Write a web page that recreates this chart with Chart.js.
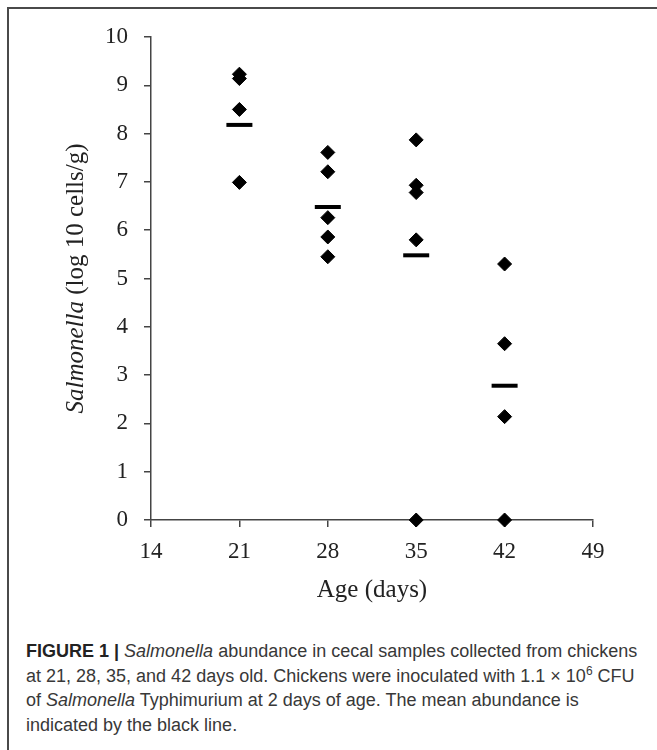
<!DOCTYPE html>
<html>
<head>
<meta charset="utf-8">
<script src="https://cdn.jsdelivr.net/npm/chart.js@4.4.1/dist/chart.umd.min.js"></script>
<style>
  body { margin: 0; background: #fff; }
  #wrap { position: relative; width: 657px; height: 750px; overflow: hidden; }
  #frame { position: absolute; left: 7px; top: 7px; width: 700px; height: 800px;
           border-left: 2px solid #4a4a4a; border-top: 2px solid #4a4a4a; }
  #chartBox { position: absolute; left: 0; top: 0; width: 657px; height: 620px; }
  #caption { position: absolute; left: 26px; top: 639px; width: 628px;
             font-family: "Liberation Sans", Arial, sans-serif; font-size: 18px;
             line-height: 24.7px; color: #383838; white-space: nowrap; }
  #caption b { font-weight: bold; color: #222; }
  #caption sup { font-size: 12px; line-height: 0; vertical-align: 7px; }
</style>
</head>
<body>
<div id="wrap">
  <div id="frame"></div>
  <div id="chartBox"><canvas id="myChart" width="657" height="620"></canvas></div>
  <div id="caption">
    <b>FIGURE 1 |</b> <i>Salmonella</i> abundance in cecal samples collected from chickens<br>
    at 21, 28, 35, and 42 days old. Chickens were inoculated with 1.1 &times; 10<sup>6</sup> CFU<br>
    of <i>Salmonella</i> Typhimurium at 2 days of age. The mean abundance is<br>
    indicated by the black line.
  </div>
</div>
<script>
// sample values (log10 cells/g)
const ages = [21, 28, 35, 42];
const day21 = [9.23, 9.14, 8.50, 6.99];
const day28 = [7.61, 7.21, 6.26, 5.86, 5.45];
const day35 = [7.87, 6.93, 6.78, 5.80, 0];
const day42 = [5.30, 3.65, 2.14, 0];
const means = [8.18, 6.48, 5.48, 2.78];

const xTicks = [14, 21, 28, 35, 42, 49];

const samples = [day21, day28, day35, day42];
const samplePoints = [];
samples.forEach((vals, i) => {
    vals.forEach(v => samplePoints.push({x: ages[i], y: v}));
});
const meanPoints = ages.map((a, i) => ({x: a, y: means[i]}));

const axisColor = '#444';
const serif = '"Liberation Serif", "Times New Roman", serif';

// y title has italic + regular parts, so it is drawn by hand
const yTitle = {
    id: 'yTitle',
    afterDraw(chart) {
        const ctx = chart.ctx;
        const area = chart.chartArea;
        const cy = (area.top + area.bottom) / 2;
        const partA = 'Salmonella';
        const partB = ' (log 10 cells/g)';
        ctx.save();
        ctx.fillStyle = '#222';
        ctx.font = 'italic 25px ' + serif;
        const wA = ctx.measureText(partA).width;
        ctx.font = '25px ' + serif;
        const wB = ctx.measureText(partB).width;
        ctx.translate(83, cy);
        ctx.rotate(-Math.PI / 2);
        ctx.textBaseline = 'alphabetic';
        ctx.textAlign = 'left';
        const start = -(wA + wB) / 2;
        ctx.font = 'italic 25px ' + serif;
        ctx.fillText(partA, start, 0);
        ctx.font = '25px ' + serif;
        ctx.fillText(partB, start + wA, 0);
        ctx.restore();
    }
};

const config = {
    type: 'scatter',
    data: {
        datasets: [
            {
                label: 'samples',
                data: samplePoints,
                pointStyle: 'rectRot',
                pointRadius: 7,
                pointHoverRadius: 7,
                backgroundColor: '#000',
                borderColor: '#000',
                borderWidth: 1,
                clip: false
            },
            {
                label: 'mean',
                data: meanPoints,
                pointStyle: 'line',
                pointRadius: 13,
                pointHoverRadius: 13,
                borderColor: '#000',
                backgroundColor: '#000',
                borderWidth: 4,
                clip: false
            }
        ]
    },
    options: {
        responsive: false,
        animation: false,
        layout: {
            padding: {left: 0, right: 64, top: 37, bottom: 0}
        },
        plugins: {
            legend: {display: false},
            tooltip: {enabled: false}
        },
        scales: {
            x: {
                type: 'linear',
                min: 14,
                max: 49,
                afterFit: s => { s.height = 100; },
                afterBuildTicks: s => { s.ticks = xTicks.map(v => ({value: v})); },
                ticks: {
                    color: '#222',
                    padding: 11,
                    font: {family: serif, size: 23}
                },
                grid: {
                    drawOnChartArea: false,
                    drawTicks: true,
                    tickLength: 7,
                    color: axisColor,
                    lineWidth: 1.5
                },
                border: {color: axisColor, width: 1.5},
                title: {
                    display: true,
                    text: 'Age (days)',
                    color: '#222',
                    font: {family: serif, size: 25},
                    padding: {top: 0, bottom: 15}
                }
            },
            y: {
                min: 0,
                max: 10,
                afterFit: s => { s.width = 151; },
                ticks: {
                    stepSize: 1,
                    color: '#222',
                    padding: 16,
                    font: {family: serif, size: 23}
                },
                grid: {
                    drawOnChartArea: false,
                    drawTicks: true,
                    tickLength: 7,
                    color: axisColor,
                    lineWidth: 1.5
                },
                border: {color: axisColor, width: 1.5}
            }
        }
    },
    plugins: [yTitle]
};

const myChart = new Chart(document.getElementById('myChart'), config);
</script>
</body>
</html>
